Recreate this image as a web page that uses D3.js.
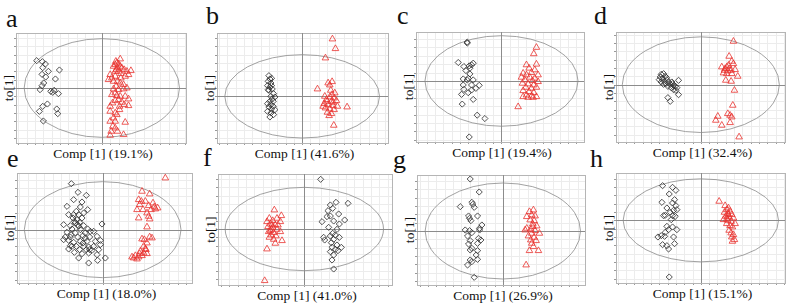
<!DOCTYPE html>
<html>
<head>
<meta charset="utf-8">
<script src="https://cdn.jsdelivr.net/npm/d3@7"></script>
<style>
body { margin: 0; background: #fff; }
svg { display: block; }
text { font-family: "Liberation Serif", "Times New Roman", serif; fill: #111; }
</style>
</head>
<body>
<div id="chart"></div>
<script>
var letters = ["a", "b", "c", "d", "e", "f", "g", "h"];
var xLabels = ["Comp [1] (19.1%)", "Comp [1] (41.6%)", "Comp [1] (19.4%)", "Comp [1] (32.4%)",
               "Comp [1] (18.0%)", "Comp [1] (41.0%)", "Comp [1] (26.9%)", "Comp [1] (15.1%)"];
var yLabel = "to[1]";

// axis limits (t[1], to[1]) and the Hotelling ellipse radii
var xLimits = [[-25.7, 25.2], [-25.6, 25.8], [-25.7, 24.8], [-25.5, 25.3],
               [-25.7, 26.8], [-25.9, 26.3], [-25.8, 24.7], [-25.5, 25.3]];
var yLimits = [[-16.5, 16.5], [-14.0, 19.0], [-18.2, 14.6], [-17.2, 15.8],
               [-16.0, 17.0], [-16.8, 16.5], [-16.2, 16.8], [-18.8, 14.2]];
var ellipseRx = [23.25, 23.25, 23.0, 23.6, 23.5, 23.75, 23.35, 23.35];
var ellipseRy = [14.8, 12.5, 13.5, 14.35, 14.4, 12.5, 14.4, 12.45];

var aDiamonds = [[-19.5,8.2],[-17.8,7.9],[-16.9,7.2],[-17.7,6.1],[-12.7,5.4],[-16.0,5.0],[-17.9,4.1],[-16.8,3.3],
  [-13.9,2.7],[-17.4,1.5],[-17.9,0.7],[-18.5,-0.5],[-15.3,-1.0],[-14.7,-1.3],[-14.3,-0.7],[-13.0,-1.7],
  [-16.3,-4.8],[-17.7,-5.5],[-18.7,-7.0],[-13.5,-6.3],[-13.2,-7.7],[-17.5,-9.9]];
var aTriangles = [[4.5,7.5],[4.0,7.0],[5.0,7.2],[3.5,6.5],[5.5,6.5],[4.7,6.0],[4.3,5.5],[6.0,6.0],[6.7,5.5],
  [7.5,5.0],[8.7,5.2],[8.0,4.0],[7.0,3.5],[5.7,3.0],[4.0,3.5],[3.0,3.0],[2.0,2.5],[3.5,2.0],[4.7,2.0],
  [5.5,1.5],[6.5,1.0],[7.5,0.0],[6.5,-0.3],[4.3,0.5],[3.5,-0.3],[5.0,-0.5],[4.0,-1.5],[3.0,-2.0],[4.5,-2.3],
  [5.5,-2.5],[7.0,-2.5],[8.0,-3.3],[5.0,-3.5],[4.0,-3.8],[6.0,-4.3],[8.0,-5.3],[6.7,-5.0],[5.3,-5.5],
  [2.5,-7.0],[4.0,-7.5],[4.5,-8.0],[3.5,-9.0],[2.5,-10.0],[4.0,-10.0],[7.0,-10.3],[3.3,-11.5],[4.0,-12.0],
  [2.8,-13.0],[4.7,-13.0],[2.5,-14.2],[6.5,-14.0],[5.5,8.7],[4.2,8.0],[5.0,5.0],[2.5,4.0],[5.7,4.3],
  [4.0,5.0],[2.5,-5.5],[5.3,-6.5],[3.2,-4.5]];

var bDiamonds = [[-10.0,6.2],[-9.7,5.2],[-10.2,4.5],[-9.4,4.0],[-10.4,3.2],[-9.7,2.8],[-9.0,2.2],[-10.0,1.8],
  [-8.6,0.8],[-9.4,0.0],[-8.2,-0.2],[-9.0,-0.8],[-9.7,-1.5],[-10.4,-2.2],[-9.4,-2.5],[-8.7,-3.0],[-10.0,-3.2],
  [-9.2,-3.8],[-8.2,-4.0],[-10.4,-4.5],[-9.4,-5.0],[-8.6,-5.5],[-9.7,-6.2],[-9.2,3.2],[-10.2,2.0],[-8.7,-1.5],
  [-9.2,5.4]];
var bTriangles = [[9.1,17.2],[10.0,14.3],[7.0,11.5],[4.6,2.2],[13.5,-3.2],[9.5,-8.7],[7.8,4.0],[9.0,4.4],
  [8.3,3.4],[8.6,1.8],[9.8,1.0],[6.8,0.0],[8.3,-0.2],[9.6,-0.5],[7.3,-1.0],[8.8,-1.5],[10.3,-1.3],[6.6,-2.2],
  [7.8,-2.5],[9.3,-2.8],[10.6,-3.0],[7.0,-3.5],[8.3,-3.8],[9.6,-4.0],[7.6,-4.8],[8.8,-5.2],[8.1,-5.8],
  [6.3,-3.0],[9.3,-1.8],[7.5,-1.5],[9.0,0.5]];

var cDiamonds = [[-10.3,11.6],[-10.3,11.3],[-13.0,5.5],[-11.3,4.3],[-9.7,4.5],[-9.0,4.8],[-8.5,5.3],[-9.5,3.8],
  [-10.7,3.1],[-9.5,2.1],[-11.5,0.6],[-10.0,0.8],[-10.3,0.3],[-8.5,0.3],[-6.7,-1.3],[-11.5,-1.2],[-9.0,-1.2],
  [-7.7,-2.2],[-11.3,-2.5],[-10.0,-3.5],[-12.0,-4.0],[-8.5,-5.5],[-11.8,-6.9],[-7.3,-10.2],[-5.0,-11.2],
  [-9.7,-16.7],[-9.0,-2.7]];
var cTriangles = [[10.5,10.0],[9.7,8.1],[5.0,-7.7],[7.5,4.8],[10.5,5.0],[8.3,3.8],[10.0,3.3],[6.5,2.3],[9.0,2.5],
  [7.5,1.8],[11.0,1.8],[6.0,1.1],[8.5,1.1],[10.0,0.8],[7.0,0.3],[9.3,0.1],[11.0,-0.2],[6.3,-0.7],[8.0,-0.9],
  [9.7,-1.2],[7.3,-1.9],[9.0,-2.2],[10.5,-1.9],[6.5,-2.9],[8.3,-3.2],[9.7,-3.5],[7.5,-4.2],[9.0,-4.5],
  [6.5,-4.7],[10.5,-4.7],[8.0,-4.9],[9.5,-4.9]];

var dDiamonds = [[-11.9,3.1],[-11.2,3.3],[-12.2,2.3],[-10.7,2.5],[-11.5,1.8],[-12.5,1.5],[-10.2,1.5],[-10.9,1.0],
  [-11.9,0.8],[-9.7,0.8],[-8.7,0.8],[-10.5,0.3],[-9.2,0.1],[-11.2,0.1],[-8.2,-0.2],[-9.9,-0.5],[-7.7,-0.5],
  [-8.9,-0.9],[-7.2,-0.9],[-8.2,-1.5],[-7.5,-1.7],[-6.7,1.3],[-6.7,-3.0],[-9.9,-3.9],[-9.2,-5.0],[-8.5,0.3],
  [-10.3,2.1]];
var dTriangles = [[9.8,13.0],[8.5,8.5],[9.3,7.0],[9.8,6.3],[6.3,5.3],[7.8,5.3],[8.5,4.8],[7.1,4.3],[8.1,4.1],
  [9.1,4.3],[10.3,4.5],[6.8,3.5],[7.8,3.3],[9.3,3.3],[11.1,2.5],[7.5,1.3],[9.1,1.0],[10.1,-1.7],[9.6,-6.2],
  [8.1,-8.7],[8.8,-9.2],[9.3,-9.7],[5.1,-9.5],[4.5,-10.7],[8.8,-11.4],[6.3,-12.2],[11.5,-15.7],[7.3,4.8],
  [8.3,5.8]];

var eDiamonds = [[-9.4,13.8],[-7.4,11.2],[-4.9,10.3],[-8.7,9.0],[-6.2,8.3],[-10.7,7.0],[-6.7,6.8],[-4.5,6.0],
  [-7.9,5.5],[-5.7,5.0],[-10.2,4.5],[-7.2,4.5],[-8.9,3.5],[-7.7,3.0],[-6.2,3.5],[-8.5,2.5],[-6.9,2.2],
  [-11.7,1.5],[-9.7,1.2],[-7.5,1.5],[-5.7,1.2],[-0.2,1.7],[-9.2,0.2],[-6.7,0.0],[-4.5,0.2],[-3.7,-0.5],
  [-10.7,-0.8],[-8.2,-1.0],[-5.2,-1.0],[-2.7,-0.5],[-11.2,-2.2],[-9.7,-2.2],[-7.5,-2.2],[-5.9,-1.8],
  [-3.9,-2.2],[-1.7,-2.0],[-10.2,-3.2],[-8.7,-3.8],[-6.7,-3.5],[-4.7,-3.5],[-2.2,-3.5],[-0.7,-3.2],
  [-9.7,-4.8],[-7.9,-5.0],[-5.7,-5.0],[-4.2,-5.2],[-2.7,-5.0],[-10.2,-5.8],[-6.9,-6.0],[-4.9,-6.0],
  [-3.2,-6.2],[-1.2,-6.0],[-8.5,-6.8],[-6.2,-7.2],[-4.2,-7.0],[-1.7,-7.5],[0.8,-8.5],[-7.2,-8.5],
  [-4.2,-10.0],[-1.5,-9.2],[-8.2,2.0],[-9.2,-5.0],[-5.2,-2.5],[-7.2,1.0],[-5.9,-4.0],[-9.5,-1.5],
  [-3.9,-6.0],[-0.7,-4.5],[-11.7,-3.0],[-8.7,4.5]];
var eTriangles = [[18.8,15.5],[11.8,11.5],[14.1,10.7],[10.8,9.0],[12.8,8.5],[15.1,8.0],[11.1,7.5],[13.8,7.2],
  [15.5,6.8],[16.5,6.5],[10.3,6.0],[12.1,6.0],[14.5,6.0],[13.3,5.0],[10.8,3.5],[13.8,4.0],[14.1,3.2],
  [13.3,0.8],[11.8,-2.8],[14.1,-2.2],[12.5,-3.0],[13.3,-4.0],[12.3,-5.0],[12.8,-5.8],[11.3,-6.5],[12.3,-7.0],
  [9.8,-7.8],[10.8,-8.2],[11.8,-7.8],[8.8,-8.2],[10.3,-8.8],[9.3,-8.5],[13.3,-7.2],[11.1,-7.2],[14.8,-2.5],
  [13.0,-6.0],[11.6,8.5],[15.8,6.2]];

var fTriangles = [[-9.0,5.7],[-6.9,4.0],[-10.5,3.2],[-8.2,3.2],[-11.2,2.2],[-9.5,2.5],[-7.2,2.2],[-10.2,1.5],
  [-8.7,1.2],[-10.9,0.7],[-9.5,0.5],[-9.9,-0.1],[-8.2,-0.1],[-10.7,-0.8],[-9.2,-1.1],[-7.2,-0.8],[-9.9,-1.8],
  [-8.5,-2.1],[-9.2,-3.1],[-6.7,-3.5],[-8.7,-4.3],[-11.2,-6.0],[-11.9,-15.5],[-9.7,1.2],[-10.2,-0.5],
  [-7.9,1.2],[-10.5,-2.5]];
var fDiamonds = [[4.9,14.9],[9.5,8.0],[13.1,7.7],[7.8,7.2],[8.5,6.2],[7.1,5.5],[10.3,4.5],[7.8,3.9],[5.3,2.2],
  [8.8,2.4],[12.1,2.7],[10.5,1.5],[7.3,0.5],[9.8,-0.1],[8.5,-1.3],[5.8,-2.5],[7.8,-2.1],[10.5,-2.5],[6.1,-3.3],
  [8.8,-3.1],[8.1,-4.1],[9.8,-4.8],[11.1,-5.5],[8.3,-5.5],[9.3,-6.1],[7.8,-6.8],[10.1,-6.5],[8.8,-7.8],
  [8.3,-9.3],[8.8,-12.0],[6.8,3.7],[9.3,-1.8]];

var gDiamonds = [[-9.8,15.6],[-7.1,11.7],[-9.3,8.6],[-9.0,8.0],[-12.8,7.3],[-8.6,7.1],[-10.3,4.5],[-7.6,4.5],
  [-9.6,3.1],[-6.3,1.8],[-7.0,0.8],[-11.3,0.3],[-10.0,0.1],[-9.3,-0.5],[-10.6,-1.5],[-7.3,-2.2],[-6.6,-2.7],
  [-9.8,-2.9],[-10.3,-3.9],[-7.6,-3.7],[-9.3,-5.2],[-9.8,-5.7],[-7.6,-5.9],[-8.0,-7.2],[-7.6,-8.5],
  [-9.8,-8.7],[-9.3,-9.2],[-10.6,-10.2],[-8.6,-13.9],[-10.0,3.8],[-7.0,0.3]];
var gTriangles = [[8.0,5.8],[9.2,6.3],[8.7,4.8],[7.2,4.3],[9.7,4.5],[8.2,3.3],[9.4,3.1],[9.0,2.1],[10.2,1.5],
  [7.2,0.8],[8.4,0.5],[9.7,0.1],[6.7,0.3],[11.0,-0.7],[8.7,-0.7],[7.7,-1.5],[9.4,-1.9],[8.4,-2.7],[10.0,-2.9],
  [8.7,-3.7],[8.0,-5.9],[10.7,-5.9],[7.0,-10.2],[9.0,1.3],[9.2,-4.7]];

var hDiamonds = [[-11.5,10.4],[-8.5,9.9],[-7.5,9.0],[-9.5,7.9],[-7.9,6.2],[-11.7,5.4],[-8.5,5.2],[-7.5,4.4],
  [-10.2,3.7],[-8.2,3.0],[-7.2,3.2],[-10.7,1.5],[-11.2,1.4],[-8.5,1.4],[-7.7,1.2],[-8.9,0.2],[-10.2,-1.8],
  [-8.5,-2.0],[-7.2,-2.8],[-9.7,-2.8],[-10.7,-3.6],[-11.9,-4.6],[-12.9,-5.0],[-10.9,-4.8],[-8.2,-5.0],
  [-11.5,-7.3],[-10.2,-7.6],[-7.9,-7.0],[-9.7,-8.6],[-9.5,-17.0],[-9.2,2.4]];
var hTriangles = [[5.5,5.7],[7.3,4.4],[8.3,3.7],[7.8,3.2],[8.8,2.7],[7.1,2.4],[8.1,2.0],[9.3,1.7],[7.5,1.2],
  [8.5,1.0],[9.8,0.7],[6.8,0.2],[8.1,0.0],[9.1,-0.3],[10.3,-1.0],[7.8,-1.0],[8.8,-1.6],[9.5,-2.0],[8.5,-3.0],
  [9.1,-3.8],[9.8,-4.3],[9.3,-5.0],[10.1,-5.8],[9.5,-6.3],[8.3,1.7],[7.8,0.4]];

var diamondSets = [aDiamonds, bDiamonds, cDiamonds, dDiamonds, eDiamonds, fDiamonds, gDiamonds, hDiamonds];
var triangleSets = [aTriangles, bTriangles, cTriangles, dTriangles, eTriangles, fTriangles, gTriangles, hTriangles];

// plot boxes in the page and where the panel letter sits
var layout = [
  { x: 16,  y: 33,  w: 170, h: 110, lx: 6,   ly: 27 },
  { x: 217, y: 33,  w: 171, h: 110, lx: 206, ly: 24 },
  { x: 416, y: 32,  w: 168, h: 110, lx: 397, ly: 24 },
  { x: 616, y: 32,  w: 169, h: 110, lx: 594, ly: 24 },
  { x: 17,  y: 173, w: 175, h: 110, lx: 7,   ly: 167 },
  { x: 218, y: 174, w: 174, h: 111, lx: 203, ly: 166 },
  { x: 417, y: 175, w: 168, h: 110, lx: 393, ly: 168 },
  { x: 616, y: 173, w: 169, h: 110, lx: 590, ly: 167 }
];
var gridStep = 2.5;
var red = "#e8322f";

var svg = d3.select("#chart").append("svg")
	.attr("width", 789)
	.attr("height", 304);

var diamond = d3.symbol().type(d3.symbolSquare).size(19);
var triangle = d3.symbol().type(d3.symbolTriangle).size(19);

letters.forEach(function(letter, i) {
	var box = layout[i];
	var x = d3.scaleLinear().domain(xLimits[i]).range([box.x, box.x + box.w]);
	var y = d3.scaleLinear().domain(yLimits[i]).range([box.y + box.h, box.y]);

	var panel = svg.append("g").attr("class", "panel");

	// grid
	var xs = d3.range(Math.ceil(xLimits[i][0] / gridStep) * gridStep, xLimits[i][1], gridStep);
	var ys = d3.range(Math.ceil(yLimits[i][0] / gridStep) * gridStep, yLimits[i][1], gridStep);

	panel.selectAll("line.gx").data(xs).enter().append("line")
		.attr("class", "gx")
		.attr("x1", function(d) { return Math.round(x(d)) + 0.5; })
		.attr("x2", function(d) { return Math.round(x(d)) + 0.5; })
		.attr("y1", box.y).attr("y2", box.y + box.h)
		.style("stroke", "#ececec").style("stroke-width", 1);

	panel.selectAll("line.gy").data(ys).enter().append("line")
		.attr("class", "gy")
		.attr("y1", function(d) { return Math.round(y(d)) + 0.5; })
		.attr("y2", function(d) { return Math.round(y(d)) + 0.5; })
		.attr("x1", box.x).attr("x2", box.x + box.w)
		.style("stroke", "#ececec").style("stroke-width", 1);

	// small ticks on bottom and left edges
	panel.selectAll("line.tx").data(xs).enter().append("line")
		.attr("class", "tx")
		.attr("x1", function(d) { return Math.round(x(d)) + 0.5; })
		.attr("x2", function(d) { return Math.round(x(d)) + 0.5; })
		.attr("y1", box.y + box.h).attr("y2", box.y + box.h + 2)
		.style("stroke", "#999");

	panel.selectAll("line.ty").data(ys).enter().append("line")
		.attr("class", "ty")
		.attr("y1", function(d) { return Math.round(y(d)) + 0.5; })
		.attr("y2", function(d) { return Math.round(y(d)) + 0.5; })
		.attr("x1", box.x - 2).attr("x2", box.x)
		.style("stroke", "#999");

	// frame
	panel.append("rect")
		.attr("x", box.x + 0.5).attr("y", box.y + 0.5)
		.attr("width", box.w).attr("height", box.h)
		.attr("fill", "none")
		.style("stroke", "#b5b5b5");

	// crosshair at origin
	panel.append("line")
		.attr("x1", Math.round(x(0)) + 0.5).attr("x2", Math.round(x(0)) + 0.5)
		.attr("y1", box.y).attr("y2", box.y + box.h)
		.style("stroke", "#8c8c8c");
	panel.append("line")
		.attr("y1", Math.round(y(0)) + 0.5).attr("y2", Math.round(y(0)) + 0.5)
		.attr("x1", box.x).attr("x2", box.x + box.w)
		.style("stroke", "#8c8c8c");

	// Hotelling T2 ellipse
	panel.append("ellipse")
		.attr("cx", x(0)).attr("cy", y(0))
		.attr("rx", x(ellipseRx[i]) - x(0))
		.attr("ry", y(0) - y(ellipseRy[i]))
		.attr("fill", "none")
		.style("stroke", "#8a8a8a")
		.style("stroke-width", 0.8);

	panel.selectAll("path.dia").data(diamondSets[i]).enter().append("path")
		.attr("class", "dia")
		.attr("d", diamond)
		.attr("transform", function(d) { return "translate(" + x(d[0]) + "," + y(d[1]) + ") rotate(45)"; })
		.attr("fill", "none")
		.style("stroke", "#333")
		.style("stroke-width", 0.8);

	panel.selectAll("path.tri").data(triangleSets[i]).enter().append("path")
		.attr("class", "tri")
		.attr("d", triangle)
		.attr("transform", function(d) { return "translate(" + x(d[0]) + "," + y(d[1]) + ")"; })
		.attr("fill", "none")
		.style("stroke", red)
		.style("stroke-width", 0.8);

	// labels
	panel.append("text")
		.attr("x", box.lx).attr("y", box.ly)
		.style("font-size", "26px")
		.text(letter);

	panel.append("text")
		.attr("x", box.x + box.w / 2 + 2)
		.attr("y", box.y + box.h + 14.5)
		.attr("text-anchor", "middle")
		.style("font-size", "13.5px")
		.text(xLabels[i]);

	panel.append("text")
		.attr("transform", "translate(" + (box.x - 3) + "," + (box.y + box.h / 2) + ") rotate(-90)")
		.attr("text-anchor", "middle")
		.style("font-size", "13.5px")
		.text(yLabel);
});
</script>
</body>
</html>
